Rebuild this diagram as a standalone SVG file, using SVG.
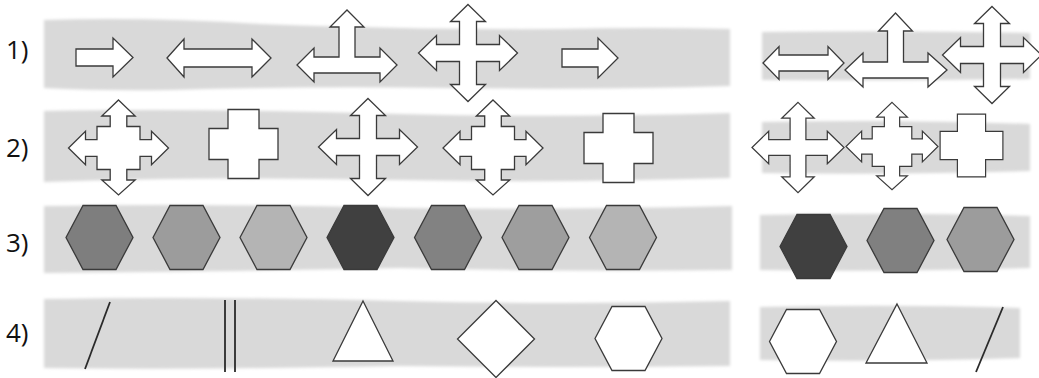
<svg xmlns="http://www.w3.org/2000/svg" xmlns:xlink="http://www.w3.org/1999/xlink" width="1039" height="378" viewBox="0 0 1039 378">
  <defs>
    <style>
      .band{fill:#d9d9d9;filter:url(#soft)}
      .sh{fill:#ffffff;stroke:#3a3a3a;stroke-width:1.3;stroke-linejoin:miter}
      .ln{fill:none;stroke:#2a2a2a;stroke-width:1.8}
      .hx{stroke:#3a3a3a;stroke-width:1.3}
      .lbl{font-family:"Open Sans","Noto Sans","DejaVu Sans",sans-serif;font-size:26px;fill:#111}
    </style>
    <filter id="soft" x="-5%" y="-20%" width="110%" height="140%">
      <feGaussianBlur stdDeviation="1.8"/>
    </filter>
    <path id="cross" d="M0,-48.5 L17.5,-31.5 L8.5,-31.5 L8.5,-8.5 L31.5,-8.5 L31.5,-17.5 L49.5,0 L31.5,17.5 L31.5,8.5 L8.5,8.5 L8.5,31.5 L17.5,31.5 L0,48.5 L-17.5,31.5 L-8.5,31.5 L-8.5,8.5 L-31.5,8.5 L-31.5,17.5 L-49.5,0 L-31.5,-17.5 L-31.5,-8.5 L-8.5,-8.5 L-8.5,-31.5 L-17.5,-31.5 Z"/>
    <path id="step" d="M0,-48 L16.7,-32 L8.3,-32 L8.3,-21.5 L21.5,-21.5 L21.5,-8.3 L33,-8.3 L33,-16.7 L50,0 L33,16.7 L33,8.3 L21.5,8.3 L21.5,21.5 L8.3,21.5 L8.3,32 L16.7,32 L0,47 L-16.7,32 L-8.3,32 L-8.3,21.5 L-21.5,21.5 L-21.5,8.3 L-33,8.3 L-33,16.7 L-50,0 L-33,-16.7 L-33,-8.3 L-21.5,-8.3 L-21.5,-21.5 L-8.3,-21.5 L-8.3,-32 L-16.7,-32 Z"/>
    <path id="plus" d="M-15.5,-34.5 H15.5 V-15.5 H34.5 V15.5 H15.5 V34.5 H-15.5 V15.5 H-34.5 V-15.5 H-15.5 Z"/>
    <path id="hex" d="M-33.5,0 L-16.5,-32 L16.5,-32 L33.5,0 L16.5,32 L-16.5,32 Z"/>
  </defs>

  <!-- background bands -->
  <g id="bands">
    <path class="band" d="M44,20 Q150,17 260,24 Q420,30 560,29 Q650,27 730,29 L730,86 Q600,90 450,88 Q300,86 170,90 Q100,91 44,88 Z"/>
    <path class="band" d="M762,32 Q900,30 1030,33 L1030,79 Q900,81 762,80 Z"/>
    <path class="band" d="M44,111 Q200,108 400,114 Q560,118 730,113 L730,178 Q560,183 400,180 Q200,176 44,182 Z"/>
    <path class="band" d="M762,122 Q900,119 1030,124 L1030,171 Q900,175 762,173 Z"/>
    <path class="band" d="M44,206 Q200,203 400,208 Q560,210 732,206 L732,270 Q560,272 400,268 Q200,272 44,273 Z"/>
    <path class="band" d="M760,215 Q900,212 1030,216 L1030,268 Q900,272 760,270 Z"/>
    <path class="band" d="M44,299 Q200,296 400,301 Q560,305 730,301 L730,366 Q560,368 400,366 Q200,370 44,368 Z"/>
    <path class="band" d="M760,307 Q900,304 1020,308 L1020,358 Q900,362 760,360 Z"/>
  </g>

  <!-- labels -->
  <g id="labels">
    <text class="lbl" x="6" y="59">1)</text>
    <text class="lbl" x="6" y="157">2)</text>
    <text class="lbl" x="6" y="252">3)</text>
    <text class="lbl" x="6" y="342">4)</text>
  </g>

  <!-- row 1 -->
  <g id="r1-arrow-right"><path class="sh" d="M76,49 H113 V38 L133,57.5 L113,77 V66 H76 Z"/></g>
  <g id="r1-arrow-double"><path class="sh" d="M167,58 L184,39 V49 H252 V39 L271,58 L252,77 V67 H184 V77 Z"/></g>
  <g id="r1-arrow-t"><path class="sh" d="M297,65 L314,48 V57 H339 V27 H330 L347,10 L364,27 H355 V57 H380 V48 L397,65 L380,82 V73 H314 V82 Z"/></g>
  <g id="r1-arrow-cross"><use xlink:href="#cross" href="#cross" class="sh" transform="translate(468,53)"/></g>
  <g id="r1-arrow-right2"><path class="sh" d="M562,49 H598 V38 L618,58 L598,78 V67 H562 Z"/></g>
  <g id="r1-ans-double"><path class="sh" d="M763,63 L779,46.5 V55 H828 V46.5 L844,63 L828,79.5 V71 H779 V79.5 Z"/></g>
  <g id="r1-ans-t"><path class="sh" d="M845,70 L863,53 V62 H887.5 V31 H878.5 L895.5,13 L912.5,31 H903.5 V62 H928 V53 L947,70 L928,87 V78 H863 V87 Z"/></g>
  <g id="r1-ans-cross"><use xlink:href="#cross" href="#cross" class="sh" transform="translate(992,55)"/></g>

  <!-- row 2 -->
  <g id="r2-step1"><use xlink:href="#step" href="#step" class="sh" transform="translate(118.5,148)"/></g>
  <g id="r2-plus1"><use xlink:href="#plus" href="#plus" class="sh" transform="translate(243.5,144)"/></g>
  <g id="r2-cross"><use xlink:href="#cross" href="#cross" class="sh" transform="translate(368,147)"/></g>
  <g id="r2-step2"><use xlink:href="#step" href="#step" class="sh" transform="translate(493,148)"/></g>
  <g id="r2-plus2"><use xlink:href="#plus" href="#plus" class="sh" transform="translate(618.5,148)"/></g>
  <g id="r2-ans-cross"><use xlink:href="#cross" href="#cross" class="sh" transform="translate(798,147.5) scale(0.93)"/></g>
  <g id="r2-ans-step"><use xlink:href="#step" href="#step" class="sh" transform="translate(892,146.5) scale(0.92)"/></g>
  <g id="r2-ans-plus"><use xlink:href="#plus" href="#plus" class="sh" transform="translate(971.5,145.5) scale(0.91)"/></g>

  <!-- row 3 -->
  <g id="r3-hex1"><use xlink:href="#hex" href="#hex" class="hx" fill="#7e7e7e" transform="translate(99.5,237.5)"/></g>
  <g id="r3-hex2"><use xlink:href="#hex" href="#hex" class="hx" fill="#9c9c9c" transform="translate(186.5,237.5)"/></g>
  <g id="r3-hex3"><use xlink:href="#hex" href="#hex" class="hx" fill="#b4b4b4" transform="translate(273.5,237.5)"/></g>
  <g id="r3-hex4"><use xlink:href="#hex" href="#hex" class="hx" fill="#404040" transform="translate(360.5,237.5)"/></g>
  <g id="r3-hex5"><use xlink:href="#hex" href="#hex" class="hx" fill="#828282" transform="translate(448,237.5)"/></g>
  <g id="r3-hex6"><use xlink:href="#hex" href="#hex" class="hx" fill="#9e9e9e" transform="translate(535.5,237.5)"/></g>
  <g id="r3-hex7"><use xlink:href="#hex" href="#hex" class="hx" fill="#b4b4b4" transform="translate(623,237.5)"/></g>
  <g id="r3-ans-hex1"><use xlink:href="#hex" href="#hex" class="hx" fill="#404040" transform="translate(813.5,246.5)"/></g>
  <g id="r3-ans-hex2"><use xlink:href="#hex" href="#hex" class="hx" fill="#808080" transform="translate(900.5,240.5)"/></g>
  <g id="r3-ans-hex3"><use xlink:href="#hex" href="#hex" class="hx" fill="#9c9c9c" transform="translate(980.5,239.5)"/></g>

  <!-- row 4 -->
  <g id="r4-line"><line class="ln" x1="110" y1="302" x2="85" y2="369"/></g>
  <g id="r4-double-line"><line class="ln" x1="225" y1="300" x2="225" y2="372"/><line class="ln" x1="235" y1="300" x2="235" y2="372"/></g>
  <g id="r4-triangle"><path class="sh" d="M363,301 L393,361 L333,361 Z"/></g>
  <g id="r4-diamond"><path class="sh" d="M496,300.5 L534.5,339 L496,377.5 L457.5,339 Z"/></g>
  <g id="r4-hex"><use xlink:href="#hex" href="#hex" class="sh" transform="translate(628.5,338.5)"/></g>
  <g id="r4-ans-hex"><use xlink:href="#hex" href="#hex" class="sh" transform="translate(803,341.5)"/></g>
  <g id="r4-ans-triangle"><path class="sh" d="M897,304 L927,363 L866,363 Z"/></g>
  <g id="r4-ans-line"><line class="ln" x1="1003" y1="307" x2="976" y2="372"/></g>
</svg>
